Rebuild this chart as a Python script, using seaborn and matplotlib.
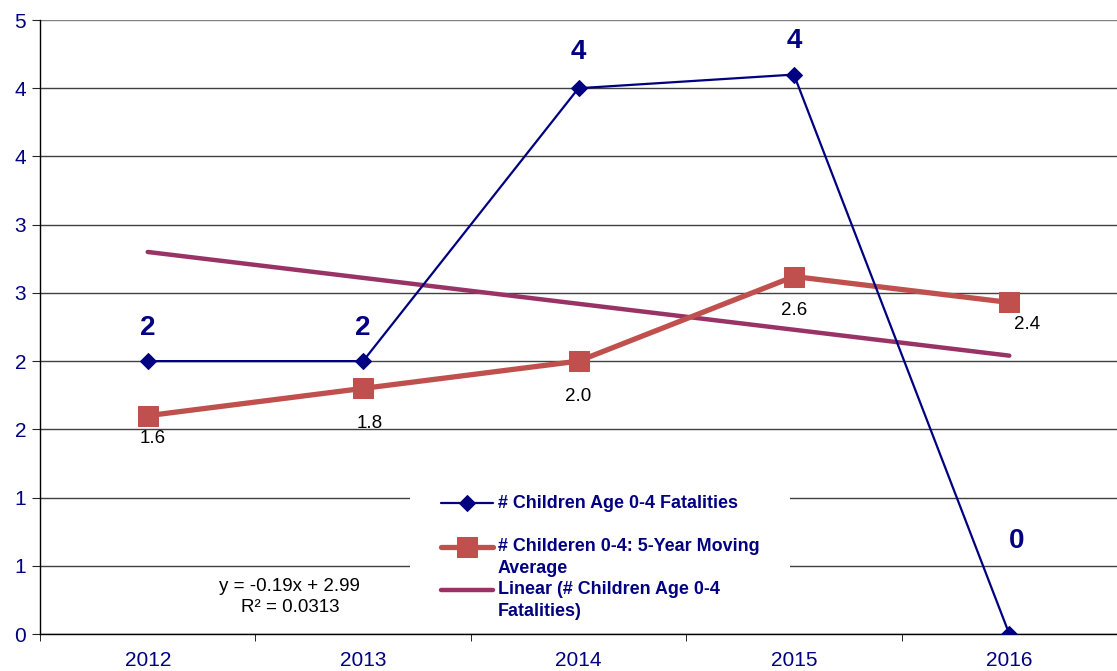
import numpy as np
import pandas as pd
import matplotlib
matplotlib.use("Agg")
import matplotlib.pyplot as plt
from matplotlib.patches import Rectangle
import seaborn as sns

# --- chart data ---
years = ["2012", "2013", "2014", "2015", "2016"]
fatalities = [2, 2, 4, 4.1, 0]
fatality_labels = ["2", "2", "4", "4", "0"]
moving_avg = [1.6, 1.8, 2.0, 2.62, 2.43]
moving_avg_labels = ["1.6", "1.8", "2.0", "2.6", "2.4"]
ytick_values = [0, 0.5, 1, 1.5, 2, 2.5, 3, 3.5, 4, 4.5]
ytick_labels = ["0", "1", "1", "2", "2", "3", "3", "4", "4", "5"]

# label offsets in pixels (dx, dy)
fat_offsets = [(0, 33), (0, 33), (0, 36), (0, 34), (7, 93)]
avg_offsets = [(5, -23), (7, -35), (0, -35), (0, -34), (18, -22)]

navy = "#000080"
orange = "#C0504D"
purple = "#993366"

sns.set_style("white")
plt.rcParams["font.family"] = ["Liberation Sans", "DejaVu Sans"]

x = np.arange(len(years))
df = pd.DataFrame({"pos": x, "fat": fatalities, "avg": moving_avg})

# linear trend of the fatalities series
slope, intercept = np.polyfit(x + 1, fatalities, 1)
fit = slope * (x + 1) + intercept
obs = np.array(fatalities)
r2 = 1 - np.sum((obs - fit) ** 2) / np.sum((obs - obs.mean()) ** 2)
df["trend"] = fit

fig = plt.figure(figsize=(11.17, 6.71), dpi=100)
ax = fig.add_axes([40 / 1117, 37 / 671, 1077 / 1117, 614 / 671])

for v in ytick_values:
    ax.axhline(v, color="#404040" if v < 4.5 else "#808080", lw=1, zorder=0)

# white legend background (hides the gridlines like the original)
ax.add_patch(Rectangle((0.3436, 0.0098), 0.3528, 0.257, transform=ax.transAxes,
                       facecolor="white", edgecolor="none", zorder=1))

sns.lineplot(data=df, x="pos", y="fat", ax=ax, color=navy, lw=1.6,
             marker="D", markersize=8, markeredgecolor=navy,
             label="# Children Age 0-4 Fatalities\n ", zorder=4)
sns.lineplot(data=df, x="pos", y="avg", ax=ax, color=orange, lw=3.8,
             marker="s", markersize=14, markeredgecolor=orange,
             label="# Childeren 0-4: 5-Year Moving\nAverage", zorder=3)
sns.lineplot(data=df, x="pos", y="trend", ax=ax, color=purple, lw=3.2,
             label="Linear (# Children Age 0-4\nFatalities)", zorder=2)

for xi, yi, lab, off in zip(x, fatalities, fatality_labels, fat_offsets):
    ax.annotate(lab, (xi, yi), xytext=off, textcoords="offset pixels",
                ha="center", va="center", fontsize=20, fontweight="bold",
                color=navy)
for xi, yi, lab, off in zip(x, moving_avg, moving_avg_labels, avg_offsets):
    ax.annotate(lab, (xi, yi), xytext=off, textcoords="offset pixels",
                ha="center", va="center", fontsize=13.5, color="black")

ax.text(0.232, 0.06, f"y = {slope:.2f}x + {intercept:.2f}\nR² = {r2:.4f}",
        transform=ax.transAxes, ha="center", va="center", fontsize=13.5,
        color="black", linespacing=1.35)

ax.set_xlim(-0.5, 4.5)
ax.set_ylim(0, 4.5)
ax.set_xticks(x)
ax.set_xticklabels(years)
ax.set_xticks(np.arange(-0.5, 4.6, 1), minor=True)
ax.tick_params(axis="x", which="major", length=0, labelsize=15,
               labelcolor=navy, pad=12)
ax.tick_params(axis="x", which="minor", length=5, direction="out",
               color="black", bottom=True)
ax.set_yticks(ytick_values)
ax.set_yticklabels(ytick_labels)
ax.tick_params(axis="y", length=6, direction="out", left=True,
               labelsize=15, labelcolor=navy, pad=4)
ax.set_xlabel("")
ax.set_ylabel("")

for side in ["top", "right"]:
    ax.spines[side].set_visible(False)
for side in ["left", "bottom"]:
    ax.spines[side].set_color("black")
    ax.spines[side].set_linewidth(1)

leg = ax.legend(loc="upper left", bbox_to_anchor=(0.364, 0.241),
                frameon=False, handlelength=2.9, handletextpad=0.28,
                labelspacing=0.25, borderpad=0.0,
                prop={"size": 12.9, "weight": "bold"})
for t in leg.get_texts():
    t.set_color(navy)
    t.set_linespacing(1.36)
# put each handle level with the first line of its label
for h in leg.legend_handles:
    h.set_ydata(np.asarray(h.get_ydata()) + 8.0)
leg.set_zorder(5)

fig.savefig("out.png", dpi=100)
